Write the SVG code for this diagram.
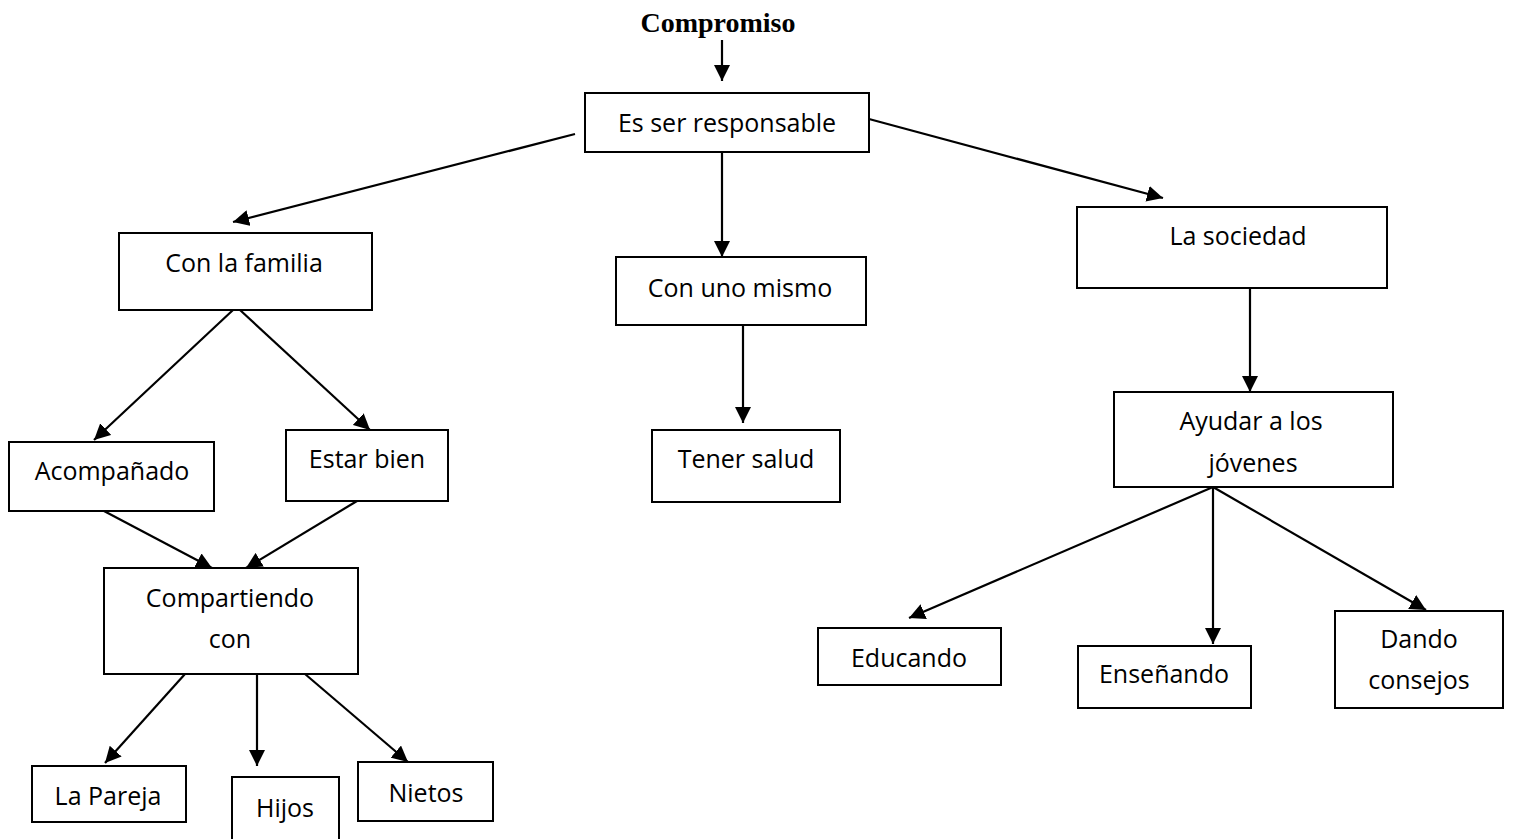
<svg xmlns="http://www.w3.org/2000/svg" width="1513" height="839" viewBox="0 0 1513 839">
<style>
  .box { fill: #ffffff; stroke: #000000; stroke-width: 2; }
  .lbl { font-family: "Open Sans", "Liberation Sans", sans-serif; font-size: 25px; fill: #000000; text-anchor: middle; }
  .title { font-family: "Liberation Serif", serif; font-weight: bold; font-size: 28px; fill: #000000; text-anchor: middle; }
  .edge { fill: none; stroke: #000000; stroke-width: 2.2; marker-end: url(#arrow); }
</style>
<defs>
  <marker id="arrow" markerUnits="userSpaceOnUse" markerWidth="18" markerHeight="16" refX="16" refY="8" orient="auto">
    <path d="M0,0 L16,8 L0,16 z" fill="#000000"/>
  </marker>
</defs>
<rect width="1513" height="839" fill="#ffffff"/>

<g id="connectors">
  <line class="edge" x1="722" y1="40" x2="722" y2="81"/>
  <line class="edge" x1="575" y1="134" x2="233" y2="222"/>
  <line class="edge" x1="722" y1="152" x2="722" y2="257"/>
  <line class="edge" x1="869" y1="119" x2="1163" y2="198"/>
  <line class="edge" x1="743" y1="325" x2="743" y2="423"/>
  <line class="edge" x1="1250" y1="288" x2="1250" y2="392"/>
  <line class="edge" x1="233" y1="310" x2="94" y2="440"/>
  <line class="edge" x1="240" y1="310" x2="370" y2="430"/>
  <line class="edge" x1="104" y1="511" x2="212" y2="568"/>
  <line class="edge" x1="357" y1="501" x2="246" y2="568"/>
  <line class="edge" x1="185" y1="674" x2="105" y2="763"/>
  <line class="edge" x1="257" y1="674" x2="257" y2="766"/>
  <line class="edge" x1="305" y1="674" x2="408" y2="762"/>
  <line class="edge" x1="1213" y1="487" x2="909" y2="618"/>
  <line class="edge" x1="1213" y1="487" x2="1213" y2="644"/>
  <line class="edge" x1="1213" y1="487" x2="1426" y2="610"/>
</g>

<g id="compromiso">
  <text class="title" x="718" y="32">Compromiso</text>
</g>
<g id="es-ser-responsable">
  <rect class="box" x="585" y="93" width="284" height="59"/>
  <text class="lbl" x="727" y="132">Es ser responsable</text>
</g>
<g id="con-la-familia">
  <rect class="box" x="119" y="233" width="253" height="77"/>
  <text class="lbl" x="244" y="272">Con la familia</text>
</g>
<g id="con-uno-mismo">
  <rect class="box" x="616" y="257" width="250" height="68"/>
  <text class="lbl" x="740" y="297">Con uno mismo</text>
</g>
<g id="la-sociedad">
  <rect class="box" x="1077" y="207" width="310" height="81"/>
  <text class="lbl" x="1238" y="245">La sociedad</text>
</g>
<g id="tener-salud">
  <rect class="box" x="652" y="430" width="188" height="72"/>
  <text class="lbl" x="746" y="468">Tener salud</text>
</g>
<g id="ayudar">
  <rect class="box" x="1114" y="392" width="279" height="95"/>
  <text class="lbl" x="1251" y="430">Ayudar a los</text>
  <text class="lbl" x="1253" y="472">jóvenes</text>
</g>
<g id="acompanado">
  <rect class="box" x="9" y="442" width="205" height="69"/>
  <text class="lbl" x="112" y="480">Acompañado</text>
</g>
<g id="estar-bien">
  <rect class="box" x="286" y="430" width="162" height="71"/>
  <text class="lbl" x="367" y="468">Estar bien</text>
</g>
<g id="compartiendo">
  <rect class="box" x="104" y="568" width="254" height="106"/>
  <text class="lbl" x="230" y="607">Compartiendo</text>
  <text class="lbl" x="230" y="648">con</text>
</g>
<g id="la-pareja">
  <rect class="box" x="32" y="766" width="154" height="56"/>
  <text class="lbl" x="108" y="805">La Pareja</text>
</g>
<g id="hijos">
  <rect class="box" x="232" y="777" width="107" height="70"/>
  <text class="lbl" x="285" y="817">Hijos</text>
</g>
<g id="nietos">
  <rect class="box" x="358" y="762" width="135" height="59"/>
  <text class="lbl" x="426" y="802">Nietos</text>
</g>
<g id="educando">
  <rect class="box" x="818" y="628" width="183" height="57"/>
  <text class="lbl" x="909" y="667">Educando</text>
</g>
<g id="ensenando">
  <rect class="box" x="1078" y="646" width="173" height="62"/>
  <text class="lbl" x="1164" y="683">Enseñando</text>
</g>
<g id="dando-consejos">
  <rect class="box" x="1335" y="611" width="168" height="97"/>
  <text class="lbl" x="1419" y="648">Dando</text>
  <text class="lbl" x="1419" y="689">consejos</text>
</g>
</svg>
